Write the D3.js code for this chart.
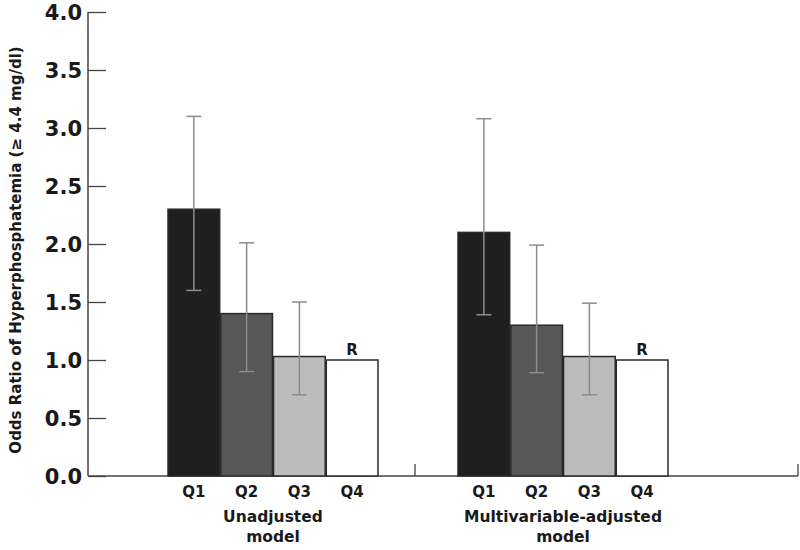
<!DOCTYPE html>
<html>
<head>
<meta charset="utf-8">
<script src="https://cdn.jsdelivr.net/npm/d3@7"></script>
<style>
  body { margin: 0; background: #fff; }
  text { font-family: "DejaVu Sans", "Liberation Sans", Arial, sans-serif; font-weight: bold; fill: #1a1a1a; }
</style>
</head>
<body>
<div id="chart"></div>
<script>
const groups = ['Unadjusted model', 'Multivariable-adjusted model']
const quartiles = ['Q1', 'Q2', 'Q3', 'Q4']
const oddsRatios = [
  [2.3, 1.4, 1.03, 1.0],
  [2.1, 1.3, 1.03, 1.0]
]
const ciLower = [
  [1.6, 0.9, 0.7, null],
  [1.39, 0.89, 0.7, null]
]
const ciUpper = [
  [3.1, 2.01, 1.5, null],
  [3.08, 1.99, 1.49, null]
]
const referenceMark = ['', '', '', 'R']
const yTicks = [0, 0.5, 1, 1.5, 2, 2.5, 3, 3.5, 4]

const WIDTH = 800
const HEIGHT = 550
const AXIS_X = 88
const AXIS_END = 798
const GROUP_LEFT = [168, 458]
const GROUP_WIDTH = 210
const SEPARATOR = 415
const fills = ['#1f1f1f', '#575757', '#bcbcbc', '#ffffff']

const svg = d3.select('#chart')
  .append('svg')
  .attr('width', WIDTH)
  .attr('height', HEIGHT)

const y = d3.scaleLinear()
  .domain([0, 4])
  .range([476, 12])

const xInner = d3.scaleBand()
  .domain(quartiles)
  .range([0, GROUP_WIDTH])
  .paddingInner(0.02)

// y axis, ticks drawn inward
const yAxis = svg.append('g')
  .attr('transform', 'translate(' + AXIS_X + ',0)')
  .call(d3.axisRight(y).tickValues(yTicks).tickSize(18).tickFormat(''))
yAxis.select('.domain').remove()
yAxis.selectAll('.tick line').attr('stroke', '#444').attr('stroke-width', 1.3)
svg.append('line')
  .attr('x1', AXIS_X).attr('x2', AXIS_X)
  .attr('y1', y(4)).attr('y2', y(0))
  .attr('stroke', '#444').attr('stroke-width', 1.5)

svg.selectAll('.ylab')
  .data(yTicks)
  .enter()
  .append('text')
  .attr('class', 'ylab')
  .attr('x', 82)
  .attr('y', (d) => y(d))
  .attr('dy', '0.36em')
  .attr('text-anchor', 'end')
  .style('font-size', '21px')
  .text((d) => d.toFixed(1))

svg.append('text')
  .attr('transform', 'translate(21,' + 250 + ') rotate(-90)')
  .attr('text-anchor', 'middle')
  .style('font-size', '15px')
  .text('Odds Ratio of Hyperphosphatemia (\u2265 4.4 mg/dl)')

// x axis
svg.append('line')
  .attr('x1', AXIS_X).attr('x2', AXIS_END)
  .attr('y1', y(0)).attr('y2', y(0))
  .attr('stroke', '#444').attr('stroke-width', 1.5)
;[SEPARATOR, AXIS_END].forEach((px) => {
  svg.append('line')
    .attr('x1', px).attr('x2', px)
    .attr('y1', y(0)).attr('y2', y(0) - 12)
    .attr('stroke', '#444').attr('stroke-width', 1.3)
})

groups.forEach((name, gi) => {
  const g = svg.append('g')
    .attr('transform', 'translate(' + GROUP_LEFT[gi] + ',0)')

  const rows = quartiles.map((q, i) => ({
    q, i,
    value: oddsRatios[gi][i],
    lo: ciLower[gi][i],
    hi: ciUpper[gi][i],
    mark: referenceMark[i]
  }))

  g.selectAll('rect')
    .data(rows)
    .enter()
    .append('rect')
    .attr('x', (d) => xInner(d.q))
    .attr('y', (d) => y(d.value))
    .attr('width', xInner.bandwidth())
    .attr('height', (d) => y(0) - y(d.value))
    .attr('fill', (d) => fills[d.i])
    .attr('stroke', '#2a2a2a')
    .attr('stroke-width', 1.5)

  const withCi = rows.filter((d) => d.lo !== null)
  const cx = (d) => xInner(d.q) + xInner.bandwidth() / 2

  g.selectAll('.ci')
    .data(withCi)
    .enter()
    .append('line')
    .attr('x1', cx).attr('x2', cx)
    .attr('y1', (d) => y(d.hi)).attr('y2', (d) => y(d.lo))
    .attr('stroke', '#8c8c8c').attr('stroke-width', 1.5)

  ;['hi', 'lo'].forEach((k) => {
    g.selectAll('.cap-' + k)
      .data(withCi)
      .enter()
      .append('line')
      .attr('x1', (d) => cx(d) - 7.5).attr('x2', (d) => cx(d) + 7.5)
      .attr('y1', (d) => y(d[k])).attr('y2', (d) => y(d[k]))
      .attr('stroke', '#8c8c8c').attr('stroke-width', 1.5)
  })

  g.selectAll('.mark')
    .data(rows.filter((d) => d.mark))
    .enter()
    .append('text')
    .attr('x', cx)
    .attr('y', (d) => y(d.value) - 5)
    .attr('text-anchor', 'middle')
    .style('font-size', '15px')
    .text((d) => d.mark)

  g.selectAll('.qlab')
    .data(rows)
    .enter()
    .append('text')
    .attr('x', cx)
    .attr('y', 497)
    .attr('text-anchor', 'middle')
    .style('font-size', '15px')
    .text((d) => d.q)

  // group label, last word on its own line
  const words = name.split(' ')
  const lines = [words.slice(0, -1).join(' '), words[words.length - 1]]
  g.selectAll('.glab')
    .data(lines)
    .enter()
    .append('text')
    .attr('x', GROUP_WIDTH / 2)
    .attr('y', (d, i) => 522 + i * 20)
    .attr('text-anchor', 'middle')
    .style('font-size', '15.5px')
    .text((d) => d)
})
</script>
</body>
</html>
